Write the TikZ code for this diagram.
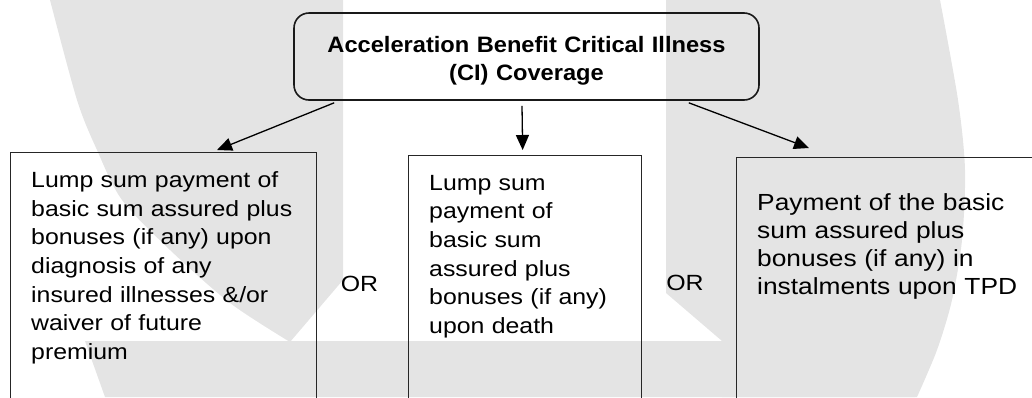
\documentclass[tikz,border=0pt]{standalone}
\usepackage{fontspec}
\usetikzlibrary{arrows.meta}
\newfontfamily\bodyfont{Liberation Sans}[FakeStretch=1.13]
\newfontfamily\headfont{Liberation Sans}[FakeStretch=1.06]
\definecolor{wm}{RGB}{228,228,228}
\begin{document}
\begin{tikzpicture}[x=1pt,y=-1pt,
  optbox/.style={draw=black!85,line width=1.3pt,anchor=north west,inner sep=0pt},
  headbox/.style={draw=black!90,line width=1.6pt,rounded corners=15pt,inner sep=0pt,
    minimum width=465pt,minimum height=87pt},
  headtext/.style={anchor=base,inner sep=0pt,text width=460pt,align=center,
    font=\headfont\bfseries\fontsize{22.3}{28.6}\selectfont},
  bodytext/.style={anchor=base west,inner sep=0pt,align=left,
    font=\bodyfont\fontsize{22}{28.7}\selectfont},
  ortext/.style={anchor=base,inner sep=0pt,font=\bodyfont\fontsize{22}{28.7}\selectfont},
  arr/.style={draw=black,line width=1.3pt,-{Triangle[length=15pt,width=13pt]}}
]
\useasboundingbox (0,0) rectangle (1032,397);
\clip (0,0) rectangle (1032,397);
% watermark
\fill[wm] (50,0) -- (343,0) -- (343,280) -- (290,342)
  -- plot[smooth] coordinates {(290,342) (230,303) (170,250) (122,200) (97,150) (77,100) (50,0)} -- cycle;
\fill[wm] (666,0) -- (940,0)
  -- plot[smooth] coordinates {(940,0) (958,100) (965,170) (962,240) (952,300) (937,350) (917,397)}
  -- (722,397) -- (722,341) -- (666,293) -- cycle;
\fill[wm] (85,341) -- (930,341) -- (915,397) -- (105,397) -- cycle;
% head
\node[headbox] (T) at (526.5,56.5) {};
\node[headtext] (Tt) at (526.5,52) {Acceleration Benefit Critical Illness\\(CI) Coverage};
% option boxes
\node[optbox,minimum width=306pt,minimum height=270pt] (L) at (10,152) {};
\node[optbox,minimum width=233pt,minimum height=270pt] (M) at (408,155) {};
\node[optbox,minimum width=310pt,minimum height=270pt] (R) at (736,157) {};
\node[bodytext,text width=290pt] (Lt) at (31,187.3) {Lump sum payment of\\basic sum assured plus\\bonuses (if any) upon\\diagnosis of any\\insured illnesses \&/or\\waiver of future\\premium};
\node[bodytext,text width=210pt] (Mt) at (429,190) {Lump sum\\payment of\\basic sum\\assured plus\\bonuses (if any)\\upon death};
\node[bodytext,text width=280pt,font=\bodyfont\fontsize{23.3}{28}\selectfont] (Rt) at (757,210) {Payment of the basic\\sum assured plus\\bonuses (if any) in\\instalments upon TPD};
\node[ortext] (or1) at (359.5,291.5) {OR};
\node[ortext] (or2) at (685,290) {OR};
% connectors
\draw[arr] ([xshift=41pt,yshift=-2pt]T.south west) -- ([xshift=207pt,yshift=2pt]L.north west);
\draw[arr] ([xshift=-4.5pt,yshift=-5pt]T.south) -- ([xshift=-2.5pt,yshift=5pt]M.north);
\draw[arr] ([xshift=-71pt,yshift=-2pt]T.south east) -- ([xshift=73pt,yshift=9pt]R.north west);
\end{tikzpicture}
\end{document}
